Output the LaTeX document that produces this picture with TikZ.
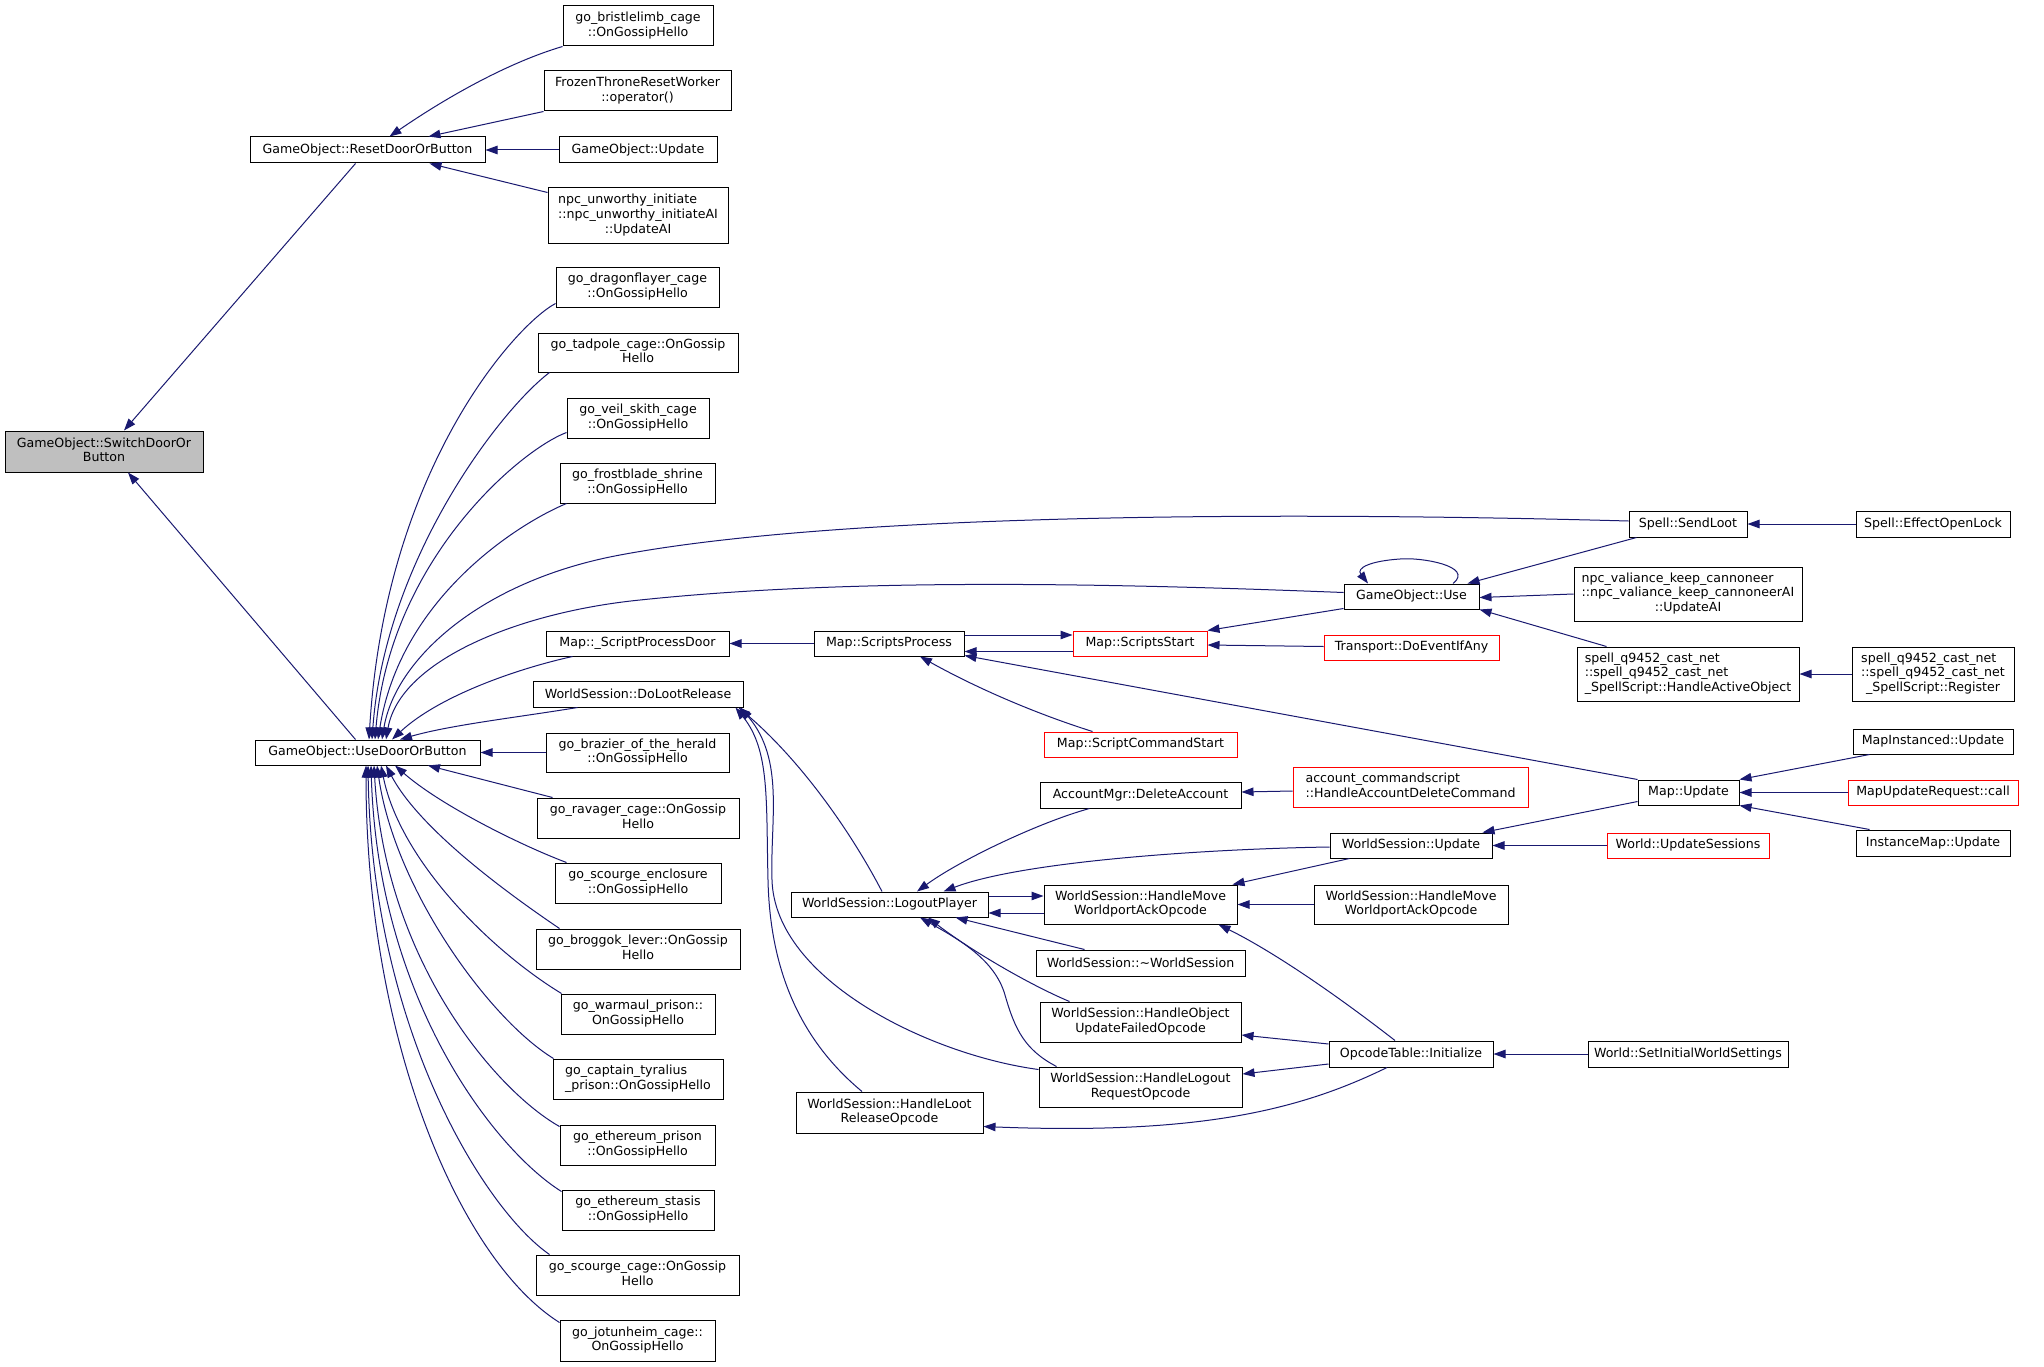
\documentclass[tikz,border=0pt]{standalone}
\usepackage{fontspec}
\setmainfont{DejaVu Sans}
\usetikzlibrary{arrows.meta}
\definecolor{edgec}{HTML}{191970}
\definecolor{grayfill}{HTML}{BFBFBF}
\definecolor{redline}{HTML}{FF0000}
\newcommand{\ml}[2]{\begin{tabular}{@{}l@{}}#1\\\multicolumn{1}{@{}c@{}}{#2}\end{tabular}}
\begin{document}
\begin{tikzpicture}[x=1pt,y=-1pt,
  box/.style={draw=black, line width=1pt, fill=white, inner sep=0pt, font=\fontsize{12.6}{14.7}\selectfont, text=black},
  rbox/.style={box, draw=redline},
  edge/.style={draw=edgec, line width=1pt, -{Triangle[length=12pt,width=8.5pt]}}]
\useasboundingbox (0,0) rectangle (2044,1367);
\fill[white] (0,0) rectangle (2044,1367);

% column 0/1
\node[box, fill=grayfill, minimum width=198, minimum height=41] (switch) at (104,451.5) {\ml{GameObject::SwitchDoorOr}{Button}};
\node[box, minimum width=235, minimum height=26] (reset) at (367.5,150) {GameObject::ResetDoorOrButton};
\node[box, minimum width=225, minimum height=25] (use) at (367.5,752.5) {GameObject::UseDoorOrButton};

% column 2
\node[box, minimum width=150, minimum height=40] (bristle) at (638,26) {\ml{go\_bristlelimb\_cage}{::OnGossipHello}};
\node[box, minimum width=187, minimum height=40] (frozen) at (637.5,91) {\ml{FrozenThroneResetWorker}{::operator()}};
\node[box, minimum width=158, minimum height=26] (goupd) at (638,150) {GameObject::Update};
\node[box, minimum width=180, minimum height=55] (npcunw) at (638,215.5) {\ml{npc\_unworthy\_initiate\\::npc\_unworthy\_initiateAI}{::UpdateAI}};
\node[box, minimum width=163, minimum height=40] (dragon) at (637.5,287) {\ml{go\_dragonflayer\_cage}{::OnGossipHello}};
\node[box, minimum width=200, minimum height=39] (tadpole) at (638,352.5) {\ml{go\_tadpole\_cage::OnGossip}{Hello}};
\node[box, minimum width=142, minimum height=40] (veil) at (638,418) {\ml{go\_veil\_skith\_cage}{::OnGossipHello}};
\node[box, minimum width=155, minimum height=40] (frost) at (637.5,483) {\ml{go\_frostblade\_shrine}{::OnGossipHello}};
\node[box, minimum width=183, minimum height=25] (spdoor) at (637.5,643.5) {Map::\_ScriptProcessDoor};
\node[box, minimum width=210, minimum height=26] (doloot) at (638,694) {WorldSession::DoLootRelease};
\node[box, minimum width=183, minimum height=39] (brazier) at (637.5,752.5) {\ml{go\_brazier\_of\_the\_herald}{::OnGossipHello}};
\node[box, minimum width=202, minimum height=40] (ravager) at (638,818) {\ml{go\_ravager\_cage::OnGossip}{Hello}};
\node[box, minimum width=166, minimum height=40] (scencl) at (638,883) {\ml{go\_scourge\_enclosure}{::OnGossipHello}};
\node[box, minimum width=204, minimum height=40] (broggok) at (638,949) {\ml{go\_broggok\_lever::OnGossip}{Hello}};
\node[box, minimum width=154, minimum height=40] (warmaul) at (638,1014) {\ml{go\_warmaul\_prison::}{OnGossipHello}};
\node[box, minimum width=170, minimum height=40] (captain) at (638,1079) {\ml{go\_captain\_tyralius}{\_prison::OnGossipHello}};
\node[box, minimum width=155, minimum height=40] (ethpr) at (637.5,1145) {\ml{go\_ethereum\_prison}{::OnGossipHello}};
\node[box, minimum width=152, minimum height=40] (ethst) at (638,1210) {\ml{go\_ethereum\_stasis}{::OnGossipHello}};
\node[box, minimum width=203, minimum height=40] (scage) at (637.5,1275) {\ml{go\_scourge\_cage::OnGossip}{Hello}};
\node[box, minimum width=155, minimum height=41] (jotun) at (637.5,1340.5) {\ml{go\_jotunheim\_cage::}{OnGossipHello}};

% column 3
\node[box, minimum width=150, minimum height=25] (sproc) at (889,643.5) {Map::ScriptsProcess};
\node[box, minimum width=197, minimum height=25] (logout) at (889.5,904.5) {WorldSession::LogoutPlayer};
\node[box, minimum width=187, minimum height=41] (hloot) at (889.5,1112.5) {\ml{WorldSession::HandleLoot}{ReleaseOpcode}};

% column 4
\node[rbox, minimum width=134, minimum height=25] (sstart) at (1140,643.5) {Map::ScriptsStart};
\node[rbox, minimum width=193, minimum height=25] (scmd) at (1140.5,744.5) {Map::ScriptCommandStart};
\node[box, minimum width=201, minimum height=26] (delacc) at (1140.5,795) {AccountMgr::DeleteAccount};
\node[box, minimum width=193, minimum height=39] (hmove1) at (1140.5,904.5) {\ml{WorldSession::HandleMove}{WorldportAckOpcode}};
\node[box, minimum width=209, minimum height=26] (dtor) at (1140.5,963) {WorldSession::\textasciitilde WorldSession};
\node[box, minimum width=201, minimum height=40] (hobj) at (1140.5,1022) {\ml{WorldSession::HandleObject}{UpdateFailedOpcode}};
\node[box, minimum width=203, minimum height=40] (hlogout) at (1140.5,1087) {\ml{WorldSession::HandleLogout}{RequestOpcode}};

% column 5
\node[box, minimum width=135, minimum height=25] (gouse) at (1411.5,596.5) {GameObject::Use};
\node[rbox, minimum width=175, minimum height=25] (transp) at (1411.5,647.5) {Transport::DoEventIfAny};
\node[rbox, minimum width=235, minimum height=40] (acccmd) at (1410.5,787) {\ml{account\_commandscript}{::HandleAccountDeleteCommand}};
\node[box, minimum width=162, minimum height=25] (wsupd) at (1411,845.5) {WorldSession::Update};
\node[box, minimum width=194, minimum height=39] (hmove2) at (1411,904.5) {\ml{WorldSession::HandleMove}{WorldportAckOpcode}};
\node[box, minimum width=164, minimum height=26] (opinit) at (1411,1054) {OpcodeTable::Initialize};

% column 6
\node[box, minimum width=118, minimum height=26] (sendloot) at (1688,524) {Spell::SendLoot};
\node[box, minimum width=228, minimum height=54] (npcval) at (1688,594) {\ml{npc\_valiance\_keep\_cannoneer\\::npc\_valiance\_keep\_cannoneerAI}{::UpdateAI}};
\node[box, minimum width=222, minimum height=54] (q9452h) at (1688,674) {\ml{spell\_q9452\_cast\_net\\::spell\_q9452\_cast\_net}{\_SpellScript::HandleActiveObject}};
\node[box, minimum width=101, minimum height=25] (mapupd) at (1688.5,792.5) {Map::Update};
\node[rbox, minimum width=162, minimum height=25] (updsess) at (1688,845.5) {World::UpdateSessions};
\node[box, minimum width=200, minimum height=26] (setinit) at (1688,1054) {World::SetInitialWorldSettings};

% column 7
\node[box, minimum width=154, minimum height=26] (effopen) at (1933,524) {Spell::EffectOpenLock};
\node[box, minimum width=162, minimum height=54] (q9452r) at (1933,674) {\ml{spell\_q9452\_cast\_net\\::spell\_q9452\_cast\_net}{\_SpellScript::Register}};
\node[box, minimum width=160, minimum height=25] (mapinst) at (1933,741.5) {MapInstanced::Update};
\node[rbox, minimum width=170, minimum height=25] (mapreq) at (1933,792.5) {MapUpdateRequest::call};
\node[box, minimum width=154, minimum height=26] (instmap) at (1933,843) {InstanceMap::Update};

% edges to SwitchDoorOrButton
\draw[edge] ([xshift=-12]reset.south) -- ([xshift=20]switch.north);
\draw[edge] ([xshift=-12]use.north) -- ([xshift=24]switch.south);

% edges to ResetDoorOrButton
\draw[edge] (bristle.south west) .. controls (510,62) and (450,95) .. ([xshift=22]reset.north);
\draw[edge] (frozen.south west) -- ([xshift=61]reset.north);
\draw[edge] (goupd.west) -- (reset.east);
\draw[edge] ([yshift=-5]npcunw.north west) -- ([xshift=62]reset.south);

% edges to UseDoorOrButton (top)
\draw[edge] ([yshift=4]dragon.south west) .. controls (515,325) and (385,470) .. ([xshift=1.5]use.north);
\draw[edge] ([xshift=12]tadpole.south west) .. controls (500,410) and (385,560) .. ([xshift=4.5]use.north);
\draw[edge] ([yshift=6]veil.south west) .. controls (520,450) and (390,560) .. ([xshift=7.5]use.north);
\draw[edge] ([xshift=7]frost.south west) .. controls (515,525) and (400,600) .. ([xshift=10.5]use.north);
\draw[edge] ([yshift=3]sendloot.west) .. controls (1300,512) and (850,512) .. (620,555) .. controls (480,581) and (395,660) .. ([xshift=14.5]use.north);
\draw[edge] ([yshift=4]gouse.west) .. controls (1100,583) and (850,578) .. (640,600) .. controls (520,612) and (400,660) .. ([xshift=18.5]use.north);
\draw[edge] ([xshift=27]spdoor.south west) .. controls (520,668) and (440,695) .. ([xshift=24.5]use.north);
\draw[edge] ([xshift=45]doloot.south west) .. controls (520,717) and (450,725) .. ([xshift=32.5]use.north);
\draw[edge] (brazier.west) -- (use.east);

% edges to UseDoorOrButton (bottom)
\draw[edge] ([xshift=16]ravager.north west) -- ([xshift=60.5]use.south);
\draw[edge] ([xshift=12]scencl.north west) .. controls (520,845) and (440,805) .. ([xshift=27.5]use.south);
\draw[edge] ([xshift=24]broggok.north west) .. controls (510,895) and (420,830) .. ([xshift=18.5]use.south);
\draw[edge] ([xshift=1]warmaul.north west) .. controls (490,950) and (400,860) .. ([xshift=13.5]use.south);
\draw[edge] ([xshift=1]captain.north west) .. controls (490,1020) and (395,890) .. ([xshift=9.5]use.south);
\draw[edge] ([yshift=-2]ethpr.north west) .. controls (495,1090) and (385,960) .. ([xshift=6.5]use.south);
\draw[edge] ([yshift=-2]ethst.north west) .. controls (495,1150) and (378,1000) .. ([xshift=3.5]use.south);
\draw[edge] ([xshift=14]scage.north west) .. controls (485,1210) and (372,1030) .. ([xshift=0.5]use.south);
\draw[edge] ([yshift=-3]jotun.north west) .. controls (460,1260) and (366,1040) .. ([xshift=-1.5]use.south);

% Map script edges
\draw[edge] (sproc.west) -- (spdoor.east);
\draw[edge] ([yshift=8.5]sproc.east) -- ([yshift=8.5]sstart.west);
\draw[edge] ([yshift=-8]sstart.west) -- ([yshift=-8]sproc.east);
\draw[edge] ([xshift=49]scmd.north west) .. controls (1040,715) and (980,690) .. ([xshift=31]sproc.south);
\draw[edge] (mapupd.north west) -- ([yshift=1]sproc.south east);
\draw[edge] ([yshift=1]gouse.south west) -- (sstart.north east);
\draw[edge] ([yshift=1]transp.west) -- ([yshift=-1.5]sstart.east);

% GameObject::Use
\draw[edge] ([xshift=41.5]gouse.north) .. controls (1475,566) and (1420,557) .. (1400,559) .. controls (1370,561) and (1356,568) .. ([xshift=-43.5]gouse.north);
\draw[edge] (npcval.west) -- ([yshift=-1]gouse.east);
\draw[edge] ([xshift=30]q9452h.north west) -- (gouse.south east);
\draw[edge] ([xshift=8]sendloot.south west) -- ([xshift=-12]gouse.north east);
\draw[edge] (effopen.west) -- (sendloot.east);
\draw[edge] (q9452r.west) -- (q9452h.east);

% Map::Update
\draw[edge] ([xshift=17]mapinst.south west) -- (mapupd.north east);
\draw[edge] (mapreq.west) -- (mapupd.east);
\draw[edge] ([xshift=14]instmap.north west) -- (mapupd.south east);
\draw[edge] ([yshift=-22]mapupd.north west) -- ([xshift=-10]wsupd.north east);
\draw[edge] (updsess.west) -- (wsupd.east);

% LogoutPlayer
\draw[edge] ([yshift=-1.5]wsupd.west) .. controls (1200,849) and (1020,862) .. ([xshift=-45]logout.north east);
\draw[edge] ([xshift=50]delacc.south west) .. controls (1040,822) and (960,860) .. ([xshift=27.5]logout.north);
\draw[edge] ([yshift=-4]acccmd.west) -- ([yshift=3]delacc.east);
\draw[edge] ([yshift=8.5]logout.east) -- ([yshift=8.5]hmove1.west);
\draw[edge] ([yshift=-8.5]hmove1.west) -- ([yshift=-8.5]logout.east);
\draw[edge] (hmove2.west) -- (hmove1.east);
\draw[edge] ([xshift=20]wsupd.south west) -- ([xshift=-5]hmove1.north east);
\draw[edge] ([xshift=-16]opinit.north) .. controls (1330,990) and (1270,950) .. ([xshift=-19]hmove1.south east);
\draw[edge] ([xshift=49]dtor.north west) -- ([xshift=-33]logout.south east);
\draw[edge] ([xshift=30]hobj.north west) .. controls (1030,985) and (970,950) .. ([xshift=38.5]logout.south);
\draw[edge] ([xshift=18]hlogout.north west) .. controls (1025,1050) and (1015,1030) .. (1005,995) .. controls (995,960) and (960,940) .. ([xshift=30.5]logout.south);
\draw[edge] ([yshift=10]opinit.west) -- ([yshift=-13]hobj.east);
\draw[edge] ([yshift=-10]opinit.west) -- ([yshift=13]hlogout.east);
\draw[edge] ([xshift=-24]opinit.south) .. controls (1300,1110) and (1200,1135) .. ([yshift=-14]hloot.east);
\draw[edge] (setinit.west) -- (opinit.east);

% DoLootRelease
\draw[edge] ([xshift=-7.5]logout.north) .. controls (850,830) and (800,760) .. ([xshift=-5]doloot.south east);
\draw[edge] ([xshift=-27.5]hloot.north) .. controls (800,1040) and (770,970) .. (768,880) .. controls (766,800) and (770,750) .. ([xshift=-8]doloot.south east);
\draw[edge] ([yshift=-3]hlogout.north west) .. controls (930,1055) and (775,980) .. (772,880) .. controls (770,820) and (785,760) .. ([xshift=-3]doloot.south east);
\end{tikzpicture}
\end{document}
